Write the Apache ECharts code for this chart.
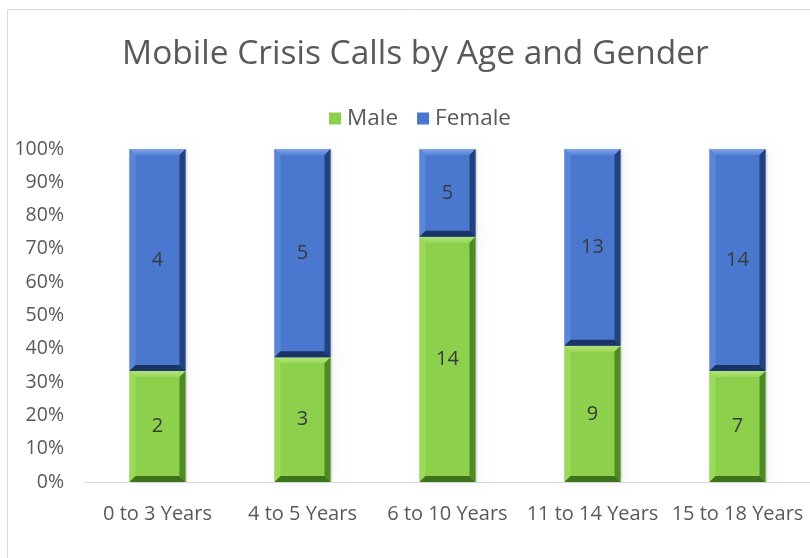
<!DOCTYPE html>
<html>
<head>
<meta charset="utf-8">
<script src="https://cdn.jsdelivr.net/npm/echarts@6/dist/echarts.min.js"></script>
<style>
  html, body { margin: 0; padding: 0; background: #fff; }
  #chart { width: 810px; height: 558px; }
</style>
</head>
<body>
<div id="chart"></div>
<script>
// Call counts per age band
const categories = ['0 to 3 Years', '4 to 5 Years', '6 to 10 Years', '11 to 14 Years', '15 to 18 Years'];
const maleCounts = [2, 3, 14, 9, 7];
const femaleCounts = [4, 5, 5, 13, 14];
const yTicks = [0, 10, 20, 30, 40, 50, 60, 70, 80, 90, 100];

const palette = {
  Male:   { face: '#8DD04C', light: '#B4E57E', mid: '#9ADB5A', dark: '#4F8A26', darker: '#3F721C' },
  Female: { face: '#4A78CE', light: '#7FA3E6', mid: '#5A86D9', dark: '#22427F', darker: '#1A3466' }
};

// 100% stacked segments: [category, lower %, upper %, count]
const totals = maleCounts.map((m, i) => m + femaleCounts[i]);
const maleSegs = maleCounts.map((m, i) => [i, 0, m / totals[i] * 100, m]);
const femaleSegs = femaleCounts.map((f, i) => [i, maleCounts[i] / totals[i] * 100, 100, f]);

const FONT = '"Open Sans", sans-serif';

function bevelBar(colors) {
  return function (params, api) {
    const idx = api.value(0), lo = api.value(1), hi = api.value(2), count = api.value(3);
    const pLo = api.coord([idx, lo]);
    const pHi = api.coord([idx, hi]);
    const bw = api.size([1, 0])[0] * 0.386;
    const x = pLo[0] - bw / 2, y = pHi[1], w = bw, h = pLo[1] - pHi[1];
    const b = 6;
    const children = [
      { type: 'rect', shape: { x: x + 2, y: y + 1, width: w, height: h - 1 },
        style: { fill: 'rgba(0,0,0,0.10)', shadowBlur: 9, shadowOffsetX: 3, shadowColor: 'rgba(0,0,0,0.35)' }, silent: true },
      { type: 'rect', shape: { x: x, y: y, width: w, height: h }, style: { fill: colors.face } },
      { type: 'polygon', shape: { points: [[x, y], [x + w, y], [x + w - b, y + b], [x + b, y + b]] },
        style: { fill: { type: 'linear', x: 0, y: 0, x2: 0, y2: 1,
          colorStops: [{ offset: 0, color: colors.light }, { offset: 1, color: colors.mid }] } } },
      { type: 'polygon', shape: { points: [[x, y], [x + b, y + b], [x + b, y + h - b], [x, y + h]] },
        style: { fill: colors.mid } },
      { type: 'polygon', shape: { points: [[x + w, y], [x + w, y + h], [x + w - b, y + h - b], [x + w - b, y + b]] },
        style: { fill: colors.dark } },
      { type: 'polygon', shape: { points: [[x, y + h], [x + b, y + h - b], [x + w - b, y + h - b], [x + w, y + h]] },
        style: { fill: colors.darker } },
      { type: 'text', style: { text: String(count), x: x + w / 2, y: y + h / 2,
          align: 'center', verticalAlign: 'middle', fill: '#3a3a3a',
          font: '20px ' + FONT } }
    ];
    return { type: 'group', children: children };
  };
}

const chart = echarts.init(document.getElementById('chart'));
chart.setOption({
  backgroundColor: '#ffffff',
  animation: false,
  graphic: [{
    type: 'rect', shape: { x: 7.5, y: 9.5, width: 900, height: 700 },
    style: { fill: 'none', stroke: '#d9d9d9', lineWidth: 1 }, silent: true, z: -10
  }],
  title: {
    text: 'Mobile Crisis Calls by Age and Gender',
    left: 117, top: 32,
    textStyle: { fontFamily: 'Open Sans', fontWeight: 'normal', fontSize: 33.5, color: '#595959' }
  },
  legend: {
    top: 102, left: 324,
    icon: 'rect', itemWidth: 12, itemHeight: 12, itemGap: 19,
    textStyle: { fontFamily: 'Open Sans', fontSize: 22.5, color: '#595959', padding: [0, 0, 0, 1] },
    data: ['Male', 'Female']
  },
  grid: { left: 85, right: 0, top: 149, bottom: 76 },
  xAxis: {
    type: 'category', data: categories,
    axisLine: { lineStyle: { color: '#d9d9d9' } },
    axisTick: { show: false },
    axisLabel: { interval: 0, margin: 22, fontFamily: 'Open Sans', fontSize: 20, color: '#595959' }
  },
  yAxis: {
    type: 'value', min: 0, max: 100, interval: 10,
    axisLine: { show: false }, axisTick: { show: false }, splitLine: { show: false },
    axisLabel: { margin: 21, fontFamily: 'Open Sans', fontSize: 19.5, color: '#595959',
      formatter: v => (yTicks.includes(v) ? v + '%' : '') }
  },
  series: [
    { name: 'Male', type: 'custom', renderItem: bevelBar(palette.Male),
      itemStyle: { color: palette.Male.face }, encode: { x: 0, y: [1, 2] }, data: maleSegs },
    { name: 'Female', type: 'custom', renderItem: bevelBar(palette.Female),
      itemStyle: { color: palette.Female.face }, encode: { x: 0, y: [1, 2] }, data: femaleSegs }
  ]
});
</script>
</body>
</html>
